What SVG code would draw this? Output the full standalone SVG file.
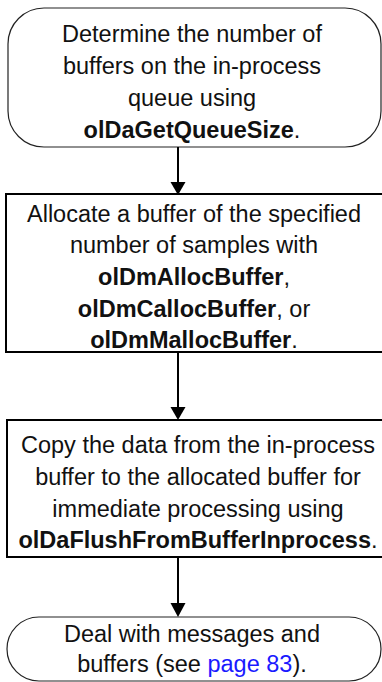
<svg xmlns="http://www.w3.org/2000/svg" width="382" height="682" viewBox="0 0 382 682">
<style>
  text { font-family: "Liberation Sans", Arial, Helvetica, sans-serif; font-size: 23.5px; fill: #111; text-anchor: middle; }
  .b { font-weight: bold; }
  .link { fill: #1a1aff; }
  .term { fill: #fff; stroke: #222; stroke-width: 1.2; }
  .proc { fill: #fff; stroke: #000; stroke-width: 2; }
  .conn line { stroke: #000; stroke-width: 2; }
  .conn polygon { fill: #000; }
</style>
<rect width="382" height="682" fill="#fff"/>
<g id="node1">
  <rect class="term" x="8" y="8" width="373" height="139" rx="36" ry="36"/>
  <text x="192" y="42">Determine the number of</text>
  <text x="192" y="74">buffers on the in-process</text>
  <text x="192" y="106">queue using</text>
  <text x="192" y="138"><tspan class="b">olDaGetQueueSize</tspan>.</text>
</g>
<g id="node2">
  <rect class="proc" x="6" y="194" width="380" height="158"/>
  <text x="194" y="221.7">Allocate a buffer of the specified</text>
  <text x="194" y="253.3">number of samples with</text>
  <text x="194" y="285"><tspan class="b">olDmAllocBuffer</tspan>,</text>
  <text x="194" y="316.6"><tspan class="b">olDmCallocBuffer</tspan>, or</text>
  <text x="194" y="348.2"><tspan class="b">olDmMallocBuffer</tspan>.</text>
</g>
<g id="node3">
  <rect class="proc" x="7" y="420" width="380" height="137"/>
  <text x="198" y="453">Copy the data from the in-process</text>
  <text x="198" y="485">buffer to the allocated buffer for</text>
  <text x="198" y="517">immediate processing using</text>
  <text x="198" y="548"><tspan class="b">olDaFlushFromBufferInprocess</tspan>.</text>
</g>
<g id="node4">
  <rect class="term" x="7" y="617" width="374" height="64" rx="32" ry="32"/>
  <text x="192" y="642">Deal with messages and</text>
  <text x="192" y="672">buffers (see <tspan class="link">page 83</tspan>).</text>
</g>
<g class="conn" id="connectors">
  <line x1="178" y1="147" x2="178" y2="183"/>
  <polygon points="170.5,182 185.5,182 178,195"/>
  <line x1="178" y1="352" x2="178" y2="408"/>
  <polygon points="170.5,407 185.5,407 178,420"/>
  <line x1="178" y1="557" x2="178" y2="604"/>
  <polygon points="170.5,603 185.5,603 178,617"/>
</g>
</svg>
